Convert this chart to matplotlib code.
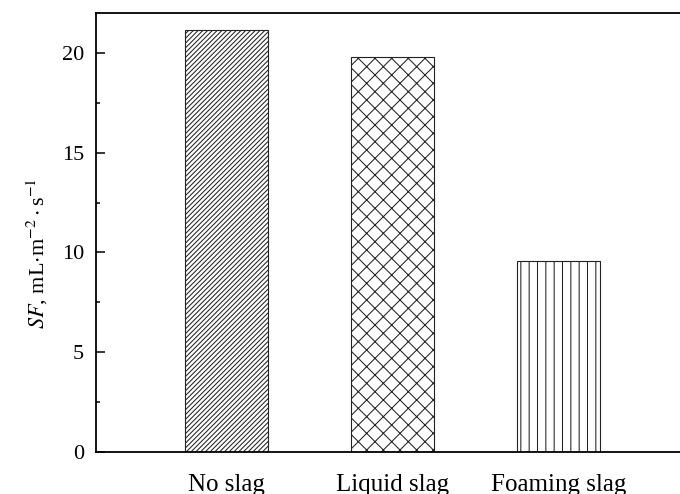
import matplotlib
matplotlib.use('Agg')
import matplotlib.pyplot as plt
from matplotlib.ticker import MultipleLocator

# datos
categorias = ['No slag', 'Liquid slag', 'Foaming slag']
valores = [21.15, 19.8, 9.55]
tramas = ['///////', 'xx', '||']

plt.rcParams['font.family'] = ['Liberation Serif', 'DejaVu Serif']
plt.rcParams['mathtext.fontset'] = 'stix'
plt.rcParams['hatch.linewidth'] = 0.75

fig = plt.figure(figsize=(6.8, 4.94), dpi=100)
ax = fig.add_axes([96/680, 1-452/494, 593/680, 439/494])

x = range(len(categorias))
for i in x:
    ax.bar(i, valores[i], width=0.5, color='white', edgecolor='#222222',
           linewidth=0.8, hatch=tramas[i])

ax.set_xlim(-0.786, 2.786)
ax.set_ylim(0, 22)
ax.set_xticks(list(x))
ax.set_xticklabels(categorias)
ax.yaxis.set_major_locator(MultipleLocator(5))
ax.yaxis.set_minor_locator(MultipleLocator(2.5))

ax.tick_params(axis='x', length=0, pad=16, labelsize=18)
ax.tick_params(axis='y', which='major', direction='in', length=6.5, width=1.1,
               pad=8.6, labelsize=16)
ax.tick_params(axis='y', which='minor', direction='in', length=3, width=1.1)

for s in ax.spines.values():
    s.set_linewidth(1.3)

ax.set_ylabel(r'$\it{SF}$, mL$\cdot$m$^{-2}\cdot$s$^{-1}$', fontsize=16)
ax.yaxis.set_label_coords(-0.077, 0.453)

plt.savefig('out.png', dpi=100)
plt.close()
